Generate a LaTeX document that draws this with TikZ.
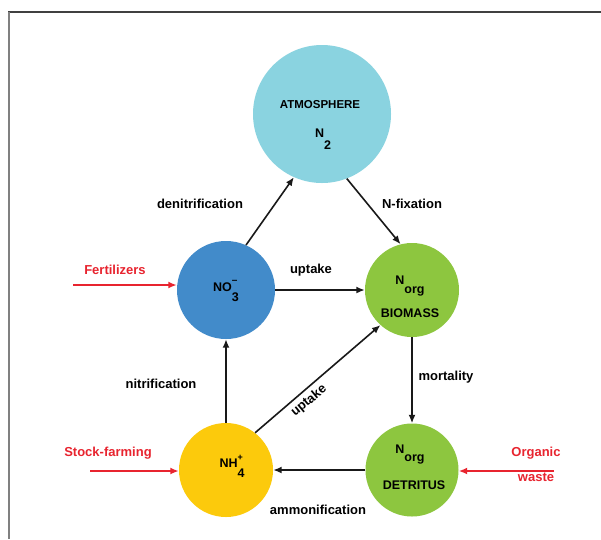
\documentclass[tikz,border=0pt]{standalone}
\usepackage{fontspec}
\setmainfont{Liberation Sans}
\usetikzlibrary{
  arrows.meta, % Latex arrow tips
  positioning  % relative placement
}
\definecolor{atmblue}{HTML}{8AD3E0}
\definecolor{nitrateblue}{HTML}{428BCA}
\definecolor{orggreen}{HTML}{8DC63F}
\definecolor{ammoniumyellow}{HTML}{FCCA0C}
\definecolor{inputred}{HTML}{E8242F}
\tikzset{
  pool/.style={
    circle,
    inner sep=0pt,
    draw=none
  },
  pool text/.style={
    font=\bfseries\fontsize{12.5}{14}\selectfont,
    inner sep=0pt
  },
  flow/.style={
    -{Latex[length=8.5pt,width=7pt]},
    line width=1.6pt,
    color=black!90
  },
  input/.style={
    -{Latex[length=8.5pt,width=7pt]},
    line width=2pt,
    color=inputred
  },
  flow label/.style={
    font=\bfseries\fontsize{13}{15}\selectfont,
    inner sep=0pt
  },
  input label/.style={
    font=\bfseries\fontsize{13}{15}\selectfont,
    color=inputred,
    inner sep=0pt
  }
}

\begin{document}
\begin{tikzpicture}[x=1pt, y=-1pt] % pixel grid of the figure, y downwards

  \useasboundingbox[fill=white] (0,0) rectangle (601,539); % page size

  % frame
  \draw[black!75, line width=1.5pt] (8,12) -- (601,12); % top edge of the frame
  \draw[black!50, line width=2pt] (9,12) -- (9,539); % left edge of the frame

  % nitrogen pools
  \node[pool, fill=atmblue, minimum size=138pt] (atm) at (322,114) {}; % atmosphere
  \node[pool, fill=nitrateblue, minimum size=98pt] (nitrate) at (226,290) {}; % nitrate
  \node[pool, fill=orggreen, minimum size=94pt] (biomass) at (412,290) {}; % living biomass
  \node[pool, fill=ammoniumyellow, minimum size=94pt] (ammonium) at (226,470) {}; % ammonium
  \node[pool, fill=orggreen, minimum size=93pt] (detritus) at (412,470) {}; % dead matter

  % pool texts
  \node[pool text, font=\bfseries\fontsize{11.5}{14}\selectfont] (atm-name) at (320,105) {ATMOSPHERE}; % name of the atmosphere
  \node[pool text] (atm-n2) at (323,133) {N\raisebox{-12pt}[0pt][0pt]{2}}; % N2
  \node[pool text] (nitrate-name) at (226,287) {NO\rlap{\raisebox{8pt}[0pt][0pt]{\fontsize{10}{10}\selectfont –}}\raisebox{-10pt}[0pt][0pt]{3}}; % NO3-
  \node[pool text] (biomass-norg) at (410,280) {N\raisebox{-9pt}[0pt][0pt]{org}}; % Norg
  \node[pool text] (biomass-name) at (410,313) {BIOMASS}; % name of biomass
  \node[pool text] (ammonium-name) at (232,463) {NH\rlap{\raisebox{7pt}[0pt][0pt]{\fontsize{9}{9}\selectfont +}}\raisebox{-10pt}[0pt][0pt]{4}}; % NH4+
  \node[pool text] (detritus-norg) at (410,449) {N\raisebox{-8pt}[0pt][0pt]{org}}; % Norg
  \node[pool text] (detritus-name) at (414,485) {DETRITUS}; % name of detritus

  % fluxes between the pools
  \draw[flow] (nitrate.66) -- (atm.246); % denitrification
  \draw[flow] (atm.291) -- (biomass.104); % fixation
  \draw[flow] (nitrate.east) -- (biomass.west); % uptake of nitrate
  \draw[flow] (ammonium.north) -- (nitrate.south); % nitrification
  \draw[flow] (ammonium.52) -- (biomass.228); % uptake of ammonium
  \draw[flow] (biomass.south) -- (detritus.north); % mortality
  \draw[flow] (detritus.west) -- (ammonium.east); % ammonification

  % flux labels
  \node[flow label] (denitrification) at (200,204) {denitrification};
  \node[flow label] (fixation) at (412,204) {N-fixation};
  \node[flow label] (uptake-no3) at (311,270) {uptake};
  \node[flow label] (nitrification) at (161,384) {nitrification};
  \node[flow label, rotate=39.6] (uptake-nh4) at (309,401) {uptake};
  \node[flow label] (mortality) at (446,377) {mortality};
  \node[flow label] (ammonification) at (318,510) {ammonification};

  % outside inputs
  \coordinate (fert-start) at (73,285); % start of fertilizer input
  \coordinate (stock-start) at (90,471); % start of stock-farming input
  \coordinate (waste-start) at (554,471); % start of waste input
  \draw[input] (fert-start) -- (fert-start -| nitrate.west); % fertilizers
  \draw[input] (stock-start) -- (stock-start -| ammonium.west); % stock-farming
  \draw[input] (waste-start) -- (waste-start -| detritus.east); % organic waste

  \node[input label] (fertilizers) at (115,270) {Fertilizers};
  \node[input label] (stock-farming) at (108,453) {Stock-farming};
  \node[input label] (organic) at (536,453) {Organic};
  \node[input label] (waste) at (536,477) {waste};

\end{tikzpicture}
\end{document}
